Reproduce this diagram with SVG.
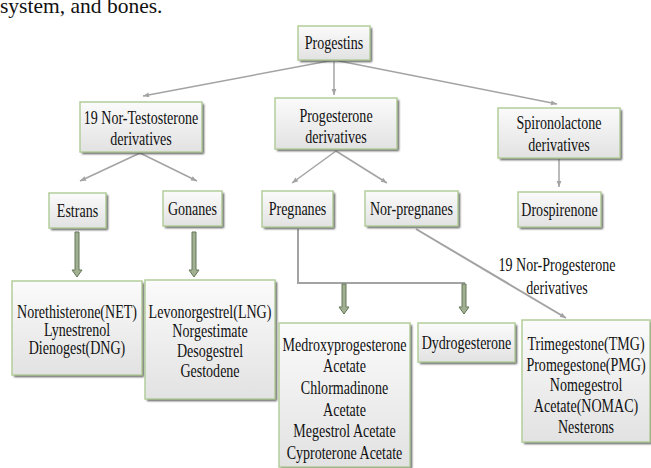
<svg xmlns="http://www.w3.org/2000/svg" width="651" height="468" viewBox="0 0 651 468">
<defs>
<linearGradient id="g" x1="0" y1="0" x2="0" y2="1">
<stop offset="0" stop-color="#fbfbfb"/>
<stop offset="1" stop-color="#e2e2e2"/>
</linearGradient>
<filter id="sh" x="-10%" y="-10%" width="130%" height="130%">
<feGaussianBlur stdDeviation="0.8"/>
</filter>
<marker id="ah" viewBox="0 0 10 10" refX="10" refY="5" markerWidth="7" markerHeight="6" orient="auto" markerUnits="userSpaceOnUse">
<path d="M0,1 L10,5 L0,9 Z" fill="#a3a3a3"/>
</marker>
</defs>
<style>
.bx{fill:url(#g);stroke:#b3cd9a;stroke-width:1.5}
.sd{fill:#555555;filter:url(#sh)}
text{font-family:"Liberation Serif","Times New Roman",serif;fill:#111111}
.t{font-family:"Liberation Serif","Times New Roman",serif;font-size:18px;text-anchor:middle;transform-box:fill-box;transform-origin:center;transform:scaleX(0.78)}
.ln{stroke:#a3a3a3;stroke-width:1.5;fill:none}
.ln2{stroke:#a3a3a3;stroke-width:2;fill:none}
.tk{fill:#a0b090;stroke:#66775a;stroke-width:1}
</style>

<text x="0" y="13" style="font-size:21.5px">system, and bones.</text>

<g id="connectors">
<line class="ln" x1="334" y1="60" x2="143" y2="96" marker-end="url(#ah)"/>
<line class="ln" x1="334" y1="60" x2="334" y2="95" marker-end="url(#ah)"/>
<line class="ln" x1="334" y1="60" x2="557" y2="104" marker-end="url(#ah)"/>
<line class="ln" x1="140" y1="153" x2="80" y2="181" marker-end="url(#ah)"/>
<line class="ln" x1="140" y1="153" x2="197" y2="181" marker-end="url(#ah)"/>
<line class="ln" x1="336" y1="151" x2="292" y2="183" marker-end="url(#ah)"/>
<line class="ln" x1="336" y1="151" x2="387" y2="183" marker-end="url(#ah)"/>
<line class="ln" x1="559" y1="159" x2="559" y2="187" marker-end="url(#ah)"/>
<line class="ln2" x1="416" y1="229" x2="566" y2="318" marker-end="url(#ah)"/>
<polyline class="ln2" points="298,229 298,283 465,283"/>
<path class="tk" d="M75,232 L79,232 L79,270 L82,270 L77,277 L72,270 L75,270 Z"/>
<path class="tk" d="M192,232 L196,232 L196,270 L199,270 L194,277 L189,270 L192,270 Z"/>
<path class="tk" d="M342,284 L346,284 L346,307 L349,307 L344,314 L339,307 L342,307 Z"/>
<path class="tk" d="M462,284 L466,284 L466,307 L469,307 L464,314 L459,307 L462,307 Z"/>
<text class="t" x="557" y="271">19 Nor-Progesterone</text>
<text class="t" x="557" y="294">derivatives</text>
</g>

<g id="progestins">
<rect class="sd" x="300" y="28" width="72" height="34"/>
<rect class="bx" x="298" y="26" width="72" height="34"/>
<text class="t" x="334" y="49">Progestins</text>
</g>

<g id="nor-testosterone">
<rect class="sd" x="82" y="104" width="122" height="50"/>
<rect class="bx" x="80" y="102" width="122" height="50"/>
<text class="t" x="141" y="124">19 Nor-Testosterone</text>
<text class="t" x="141" y="145">derivatives</text>
</g>

<g id="progesterone">
<rect class="sd" x="277" y="100" width="122" height="51"/>
<rect class="bx" x="275" y="98" width="122" height="51"/>
<text class="t" x="336" y="122">Progesterone</text>
<text class="t" x="336" y="143">derivatives</text>
</g>

<g id="spironolactone">
<rect class="sd" x="500" y="110" width="122" height="50"/>
<rect class="bx" x="498" y="108" width="122" height="50"/>
<text class="t" x="559" y="129">Spironolactone</text>
<text class="t" x="559" y="151">derivatives</text>
</g>

<g id="estrans">
<rect class="sd" x="51" y="195" width="57" height="35"/>
<rect class="bx" x="49" y="193" width="57" height="35"/>
<text class="t" x="77.5" y="217">Estrans</text>
</g>

<g id="gonanes">
<rect class="sd" x="165" y="193" width="59" height="35"/>
<rect class="bx" x="163" y="191" width="59" height="35"/>
<text class="t" x="192.5" y="215">Gonanes</text>
</g>

<g id="pregnanes">
<rect class="sd" x="264" y="193" width="71" height="36"/>
<rect class="bx" x="262" y="191" width="71" height="36"/>
<text class="t" x="297.5" y="215">Pregnanes</text>
</g>

<g id="nor-pregnanes">
<rect class="sd" x="367" y="193" width="93" height="35"/>
<rect class="bx" x="365" y="191" width="93" height="35"/>
<text class="t" x="411.5" y="215">Nor-pregnanes</text>
</g>

<g id="drospirenone">
<rect class="sd" x="520" y="194" width="83" height="35"/>
<rect class="bx" x="518" y="192" width="83" height="35"/>
<text class="t" x="559.5" y="216">Drospirenone</text>
</g>

<g id="estrans-list">
<rect class="sd" x="14" y="283" width="130" height="94"/>
<rect class="bx" x="12" y="281" width="130" height="94"/>
<text class="t" x="77" y="318">Norethisterone(NET)</text>
<text class="t" x="77" y="336">Lynestrenol</text>
<text class="t" x="77" y="354">Dienogest(DNG)</text>
</g>

<g id="gonanes-list">
<rect class="sd" x="147" y="282" width="130" height="119"/>
<rect class="bx" x="145" y="280" width="130" height="119"/>
<text class="t" x="210" y="318">Levonorgestrel(LNG)</text>
<text class="t" x="210" y="337">Norgestimate</text>
<text class="t" x="210" y="357">Desogestrel</text>
<text class="t" x="210" y="377">Gestodene</text>
</g>

<g id="pregnanes-list">
<rect class="sd" x="281" y="325" width="131" height="144"/>
<rect class="bx" x="279" y="323" width="131" height="144"/>
<text class="t" x="344.5" y="351">Medroxyprogesterone</text>
<text class="t" x="344.5" y="372">Acetate</text>
<text class="t" x="344.5" y="394">Chlormadinone</text>
<text class="t" x="344.5" y="416">Acetate</text>
<text class="t" x="344.5" y="437">Megestrol Acetate</text>
<text class="t" x="344.5" y="459">Cyproterone Acetate</text>
</g>

<g id="dydrogesterone">
<rect class="sd" x="420" y="325" width="97" height="39"/>
<rect class="bx" x="418" y="323" width="97" height="39"/>
<text class="t" x="466.5" y="349">Dydrogesterone</text>
</g>

<g id="nor-pregnanes-list">
<rect class="sd" x="524" y="322" width="128" height="122"/>
<rect class="bx" x="522" y="320" width="128" height="122"/>
<text class="t" x="586" y="350">Trimegestone(TMG)</text>
<text class="t" x="586" y="371">Promegestone(PMG)</text>
<text class="t" x="586" y="391">Nomegestrol</text>
<text class="t" x="586" y="412">Acetate(NOMAC)</text>
<text class="t" x="586" y="433">Nesterons</text>
</g>
</svg>
